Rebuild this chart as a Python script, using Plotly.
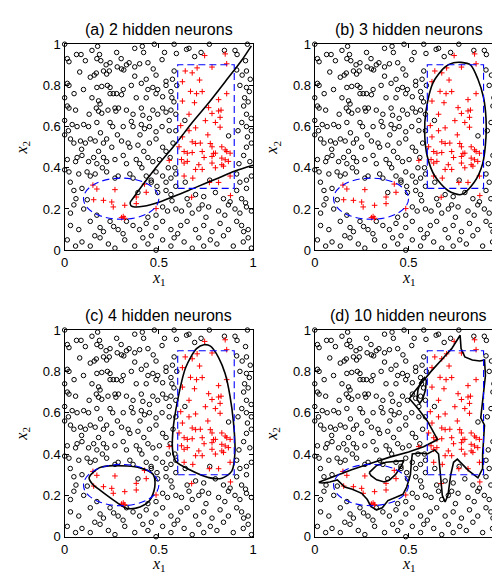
import plotly.graph_objects as go

# ---------------- data ----------------
circle_pts = [
    (0.0,1.0),(0.063,0.95),(0.087,0.95),(0.145,0.97),(0.175,0.99),(0.185,0.95),(0.276,0.96),(0.372,0.98),
    (0.412,0.99),(0.419,0.96),(0.476,1.0),(0.581,1.0),(0.593,0.955),(0.647,0.975),(0.66,0.98),(0.724,0.96),
    (0.768,1.0),(0.848,0.97),(0.904,0.97),(0.915,0.95),(0.97,1.0),
    (0.014,0.93),(0.023,0.915),(0.171,0.93),(0.192,0.92),(0.22,0.9),(0.241,0.91),(0.279,0.89),(0.328,0.9),
    (0.342,0.91),(0.372,0.89),(0.398,0.905),(0.442,0.91),(0.517,0.925),(0.581,0.87),(0.913,0.875),(0.965,0.87),
    (0.08,0.865),(0.136,0.84),(0.157,0.85),(0.168,0.86),(0.206,0.87),(0.223,0.855),(0.237,0.87),(0.302,0.88),
    (0.314,0.875),(0.372,0.845),(0.433,0.83),(0.485,0.85),(0.538,0.82),(0.572,0.83),(0.942,0.85),(0.985,0.83),
    (0.014,0.81),(0.023,0.80),(0.171,0.79),(0.197,0.795),(0.227,0.8),(0.241,0.79),(0.311,0.78),(0.354,0.8),
    (0.407,0.81),(0.442,0.78),(0.468,0.79),(0.494,0.78),(0.538,0.8),(0.564,0.77),(0.965,0.79),
    (0.145,0.74),(0.18,0.725),(0.188,0.71),(0.241,0.76),(0.258,0.76),(0.276,0.76),(0.302,0.755),(0.433,0.74),
    (0.485,0.76),(0.52,0.745),(0.569,0.74),(0.955,0.74),(0.974,0.72),
    (0.014,0.70),(0.023,0.69),(0.058,0.68),(0.168,0.69),(0.18,0.675),(0.197,0.665),(0.267,0.69),(0.272,0.675),
    (0.286,0.69),(0.328,0.68),(0.363,0.66),(0.407,0.69),(0.415,0.655),(0.468,0.68),(0.494,0.66),(0.52,0.69),
    (0.538,0.67),(0.564,0.68),(0.59,0.66),(0.965,0.66),
    (0.04,0.61),(0.066,0.6),(0.101,0.61),(0.127,0.6),(0.171,0.62),(0.241,0.62),(0.255,0.6),(0.311,0.6),
    (0.354,0.625),(0.363,0.6),(0.407,0.61),(0.424,0.59),(0.45,0.6),(0.485,0.575),(0.517,0.6),(0.555,0.58),
    (0.965,0.6),(0.991,0.58),
    (0.031,0.54),(0.049,0.52),(0.084,0.53),(0.11,0.52),(0.136,0.54),(0.162,0.53),(0.206,0.52),(0.223,0.54),
    (0.25,0.5),(0.302,0.53),(0.337,0.52),(0.346,0.5),(0.389,0.51),(0.45,0.52),(0.485,0.54),(0.52,0.5),
    (0.538,0.48),(0.87,0.555),(0.965,0.5),(0.991,0.52),
    (0.014,0.44),(0.058,0.43),(0.066,0.45),(0.092,0.46),(0.127,0.43),(0.154,0.45),(0.171,0.42),(0.206,0.45),
    (0.223,0.43),(0.267,0.44),(0.311,0.46),(0.328,0.42),(0.38,0.44),(0.398,0.42),(0.442,0.45),(0.468,0.43),
    (0.503,0.44),(0.983,0.43),(0.95,0.46),
    (0.023,0.38),(0.075,0.37),(0.119,0.38),(0.136,0.36),(0.162,0.37),(0.223,0.38),(0.267,0.35),(0.284,0.36),
    (0.346,0.37),(0.363,0.35),(0.433,0.36),(0.459,0.34),(0.485,0.38),(0.52,0.36),(0.538,0.33),(0.564,0.35),
    (0.59,0.37),(0.913,0.37),(0.965,0.34),(0.991,0.36),
    (0.049,0.29),(0.092,0.3),(0.12,0.245),(0.389,0.28),(0.46,0.33),(0.49,0.31),(0.494,0.28),(0.538,0.29),
    (0.564,0.27),(0.59,0.31),(0.65,0.25),(0.695,0.27),(0.738,0.26),(0.8,0.28),(0.843,0.25),(0.878,0.235),
    (0.913,0.29),(0.939,0.25),(0.965,0.3),
    (0.049,0.22),(0.101,0.2),(0.031,0.18),(0.52,0.21),(0.546,0.19),(0.59,0.2),(0.66,0.22),(0.677,0.18),
    (0.712,0.2),(0.764,0.21),(0.817,0.19),(0.869,0.22),(0.904,0.2),(0.93,0.18),(0.965,0.21),(0.991,0.19),
    (0.485,0.17),(0.442,0.16),(0.171,0.17),(0.241,0.14),
    (0.031,0.12),(0.075,0.1),(0.136,0.14),(0.188,0.11),(0.206,0.09),(0.26,0.115),(0.284,0.1),(0.328,0.14),
    (0.363,0.12),(0.398,0.1),(0.433,0.13),(0.485,0.11),(0.52,0.14),(0.564,0.1),(0.616,0.12),(0.65,0.14),
    (0.695,0.1),(0.738,0.12),(0.782,0.09),(0.825,0.13),(0.869,0.1),(0.913,0.14),(0.939,0.12),(0.974,0.1),
    (0.014,0.05),(0.058,0.02),(0.092,0.04),(0.136,0.02),(0.188,0.06),(0.232,0.03),(0.267,0.01),(0.319,0.05),
    (0.372,0.02),(0.415,0.06),(0.442,0.03),(0.485,0.0),(0.52,0.05),(0.564,0.02),(0.581,0.06),(0.634,0.04),
    (0.677,0.01),(0.712,0.06),(0.738,0.02),(0.773,0.05),(0.808,0.03),(0.843,0.07),(0.895,0.02),(0.948,0.04),
    (0.974,0.06),(0.991,0.01),
    (0.93,0.8),(0.95,0.7),(0.97,0.55),(0.925,0.42),(0.94,0.62),(0.98,0.77),(0.93,0.33),(0.99,0.64),
    (0.638,0.63),(0.64,0.33),(0.77,0.34),
    (0.575,0.52),(0.56,0.45),(0.585,0.4),(0.59,0.58),(0.555,0.63),(0.595,0.8),(0.58,0.72),
    (0.0,0.74),(0.0,0.63),(0.0,0.56),(0.0,0.39),
    (0.11,0.92),(0.3,0.93),(0.47,0.88),(0.53,0.96),(0.05,0.76),(0.1,0.78),(0.38,0.74),(0.13,0.66),
    (0.23,0.68),(0.45,0.64),(0.02,0.58),(0.19,0.57),(0.28,0.56),(0.4,0.56),(0.09,0.49),(0.18,0.48),
    (0.42,0.48),(0.03,0.33),(0.2,0.4),(0.41,0.4),(0.55,0.4),(0.06,0.25),(0.57,0.24),(0.62,0.19),
    (0.75,0.16),(0.85,0.17),(0.95,0.09),(0.6,0.08),(0.46,0.07),(0.16,0.07),(0.31,0.08),(0.73,0.22),
    (0.96,0.23),(0.92,0.58),(0.96,0.92),(0.69,0.94),
]

plus_pts = [
    (0.743,0.945),(0.852,0.953),(0.677,0.861),(0.703,0.885),(0.716,0.826),(0.782,0.889),(0.86,0.905),
    (0.668,0.771),(0.817,0.731),(0.625,0.724),(0.689,0.716),(0.764,0.692),(0.782,0.664),(0.817,0.676),
    (0.825,0.645),(0.616,0.605),(0.695,0.594),(0.747,0.629),(0.625,0.55),(0.677,0.526),(0.695,0.518),
    (0.773,0.518),(0.782,0.502),(0.834,0.502),(0.852,0.487),(0.607,0.502),(0.634,0.479),(0.651,0.471),
    (0.677,0.474),(0.73,0.479),(0.86,0.479),(0.878,0.471),(0.634,0.423),(0.651,0.431),(0.782,0.455),
    (0.8,0.471),(0.834,0.447),(0.852,0.439),(0.869,0.431),(0.782,0.423),(0.834,0.415),(0.843,0.408),
    (0.8,0.4),(0.768,0.329),(0.817,0.329),(0.712,0.415),(0.695,0.392),(0.73,0.392),(0.73,0.77),
    (0.825,0.597),(0.66,0.66),(0.634,0.36),(0.878,0.36),(0.625,0.818),
    (0.64,0.87),(0.70,0.76),(0.76,0.56),(0.80,0.62),(0.83,0.68),(0.66,0.58),(0.72,0.52),(0.62,0.44),
    (0.68,0.35),(0.86,0.76),(0.74,0.45),(0.79,0.47),
    (0.674,0.257),(0.555,0.436),(0.88,0.265),
    (0.171,0.297),(0.15,0.316),(0.267,0.294),(0.424,0.321),(0.433,0.281),(0.38,0.258),(0.206,0.242),
    (0.25,0.234),(0.154,0.245),(0.258,0.21),(0.319,0.218),(0.485,0.202),(0.311,0.163),(0.319,0.155),
    (0.302,0.158),(0.38,0.226),
]

# true class regions (blue dashed)
rect_x0, rect_x1, rect_y0, rect_y1 = 0.6, 0.9, 0.3, 0.9
ell_x0, ell_x1, ell_y0, ell_y1 = 0.1, 0.5, 0.15, 0.35

# decision boundaries
bnd_a = [[(0.991,0.992),(0.939,0.921),(0.852,0.818),(0.765,0.716),(0.678,0.621),(0.591,0.518),
          (0.504,0.423),(0.417,0.32),(0.365,0.255),(0.348,0.232),(0.352,0.216),(0.372,0.21),(0.417,0.213),
          (0.504,0.234),(0.591,0.265),(0.696,0.305),(0.8,0.344),(0.904,0.384),(1.0,0.412)]]
bnd_b = [[(0.74,0.91),(0.78,0.912),(0.83,0.9),(0.87,0.83),(0.9,0.74),(0.913,0.64),(0.913,0.55),(0.895,0.42),
          (0.85,0.33),(0.78,0.27),(0.71,0.29),(0.64,0.36),(0.6,0.455),(0.586,0.565),(0.593,0.676),
          (0.633,0.818),(0.695,0.89),(0.74,0.91)]]
bnd_c = [[(0.739,0.929),(0.774,0.922),(0.817,0.867),(0.852,0.788),(0.878,0.678),(0.896,0.553),(0.904,0.411),
          (0.887,0.317),(0.835,0.283),(0.765,0.286),(0.661,0.325),(0.591,0.364),(0.574,0.411),(0.574,0.505),
          (0.6,0.662),(0.643,0.82),(0.7,0.91),(0.739,0.929)],
         [(0.13,0.286),(0.183,0.333),(0.261,0.344),(0.4,0.333),(0.47,0.301),(0.478,0.239),(0.452,0.176),
          (0.4,0.144),(0.33,0.137),(0.261,0.176),(0.191,0.223),(0.148,0.254),(0.13,0.286)]]
bnd_d = [[(0.021,0.263),(0.10,0.290),(0.20,0.325),(0.30,0.355),(0.40,0.385),(0.50,0.410),(0.58,0.435),
          (0.655,0.470),(0.60,0.56),(0.55,0.62),(0.505,0.668),(0.53,0.70),(0.57,0.745),(0.62,0.80),
          (0.68,0.86),(0.73,0.91),(0.775,0.975),(0.78,0.91),(0.80,0.87),(0.84,0.855),(0.88,0.85),
          (0.905,0.855),(0.91,0.78),(0.90,0.70),(0.89,0.62),(0.885,0.575),(0.905,0.54),(0.90,0.49),
          (0.895,0.40),(0.895,0.33),(0.87,0.285),(0.82,0.32),(0.76,0.375),(0.74,0.36),(0.725,0.30),
          (0.71,0.20),(0.695,0.168),(0.68,0.20),(0.672,0.30),(0.66,0.40),(0.64,0.42),(0.60,0.40),
          (0.56,0.405),(0.52,0.40),(0.515,0.36),(0.51,0.30),(0.49,0.24),(0.47,0.205),(0.43,0.19),
          (0.39,0.175),(0.36,0.14),(0.33,0.13),(0.30,0.145),(0.28,0.18),(0.25,0.21),(0.20,0.23),
          (0.16,0.24),(0.14,0.26),(0.12,0.275),(0.08,0.265),(0.04,0.26),(0.021,0.263)],
         [(0.29,0.31),(0.33,0.345),(0.38,0.36),(0.44,0.365),(0.475,0.368),(0.46,0.34),(0.43,0.30),
          (0.40,0.275),(0.37,0.265),(0.33,0.275),(0.30,0.295),(0.29,0.31)],
         [(0.545,0.665),(0.55,0.71),(0.565,0.75),(0.585,0.77),(0.595,0.755),(0.59,0.71),(0.575,0.665),
          (0.56,0.645),(0.545,0.665)]]

titles = ["(a) 2 hidden neurons", "(b) 3 hidden neurons", "(c) 4 hidden neurons", "(d) 10 hidden neurons"]
boundaries = [bnd_a, bnd_b, bnd_c, bnd_d]
x_ticks = [0, 0.5, 1]
x_ticktext = ["0", "0.5", "1"]
y_ticks = [0, 0.2, 0.4, 0.6, 0.8, 1]
y_ticktext = ["0", "0.2", "0.4", "0.6", "0.8", "1"]

# ---------------- layout geometry ----------------
W, H = 500, 574
col_px = [(53.5, 245.0), (307.7, 498.3)]
row_px = [(30.0, 241.5), (323.5, 535.7)]

cx = [c[0] for c in circle_pts]; cy = [c[1] for c in circle_pts]
px = [p[0] for p in plus_pts]; py = [p[1] for p in plus_pts]

fig = go.Figure()
layout = dict(width=W, height=H, margin=dict(l=0, r=0, t=0, b=0),
              plot_bgcolor="white", paper_bgcolor="white", showlegend=False,
              font=dict(family="Liberation Sans, Arial", size=13, color="black"))
annotations = []
shapes = []
tick_font = dict(family="Liberation Sans, Arial", size=13, color="black")
lab_font = dict(family="Liberation Serif, Times New Roman", size=16, color="black")

for i in range(4):
    r, c = divmod(i, 2)
    n = "" if i == 0 else str(i + 1)
    xa, ya = "x" + n, "y" + n
    xd = [col_px[c][0] / W, col_px[c][1] / W]
    yd = [(H - row_px[r][1]) / H, (H - row_px[r][0]) / H]
    common = dict(range=[0, 1], showgrid=False, zeroline=False, showline=True, linecolor="black",
                  linewidth=1.4, mirror="allticks", ticks="inside", ticklen=4, tickwidth=1,
                  tickcolor="black", tickfont=tick_font, fixedrange=True)
    layout["xaxis" + n] = dict(domain=xd, anchor=ya, tickvals=x_ticks, ticktext=x_ticktext, **common)
    layout["yaxis" + n] = dict(domain=yd, anchor=xa, tickvals=y_ticks, ticktext=y_ticktext, **common)

    fig.add_trace(go.Scatter(x=cx, y=cy, mode="markers", xaxis=xa, yaxis=ya, cliponaxis=False,
                             marker=dict(symbol="circle-open", size=4.5, color="black",
                                         line=dict(width=1, color="black"))))
    fig.add_trace(go.Scatter(x=px, y=py, mode="markers", xaxis=xa, yaxis=ya, cliponaxis=False,
                             marker=dict(symbol="cross-thin", size=4, color="red",
                                         line=dict(width=1, color="red"))))
    shape_kind = "linear" if i == 3 else "spline"
    for curve in boundaries[i]:
        fig.add_trace(go.Scatter(x=[p[0] for p in curve], y=[p[1] for p in curve], mode="lines",
                                 xaxis=xa, yaxis=ya,
                                 line=dict(color="black", width=1.6, shape=shape_kind, smoothing=0.8)))

    dash_line = dict(color="blue", width=1.1, dash="7px,4px")
    shapes.append(dict(type="rect", xref=xa, yref=ya, x0=rect_x0, x1=rect_x1, y0=rect_y0, y1=rect_y1,
                       line=dash_line, layer="above"))
    shapes.append(dict(type="circle", xref=xa, yref=ya, x0=ell_x0, x1=ell_x1, y0=ell_y0, y1=ell_y1,
                       line=dash_line, layer="above"))

    xmid = (col_px[c][0] + col_px[c][1]) / 2 / W
    annotations.append(dict(text=titles[i], x=xmid, y=(H - (row_px[r][0] - 15)) / H, xref="paper",
                            yref="paper", showarrow=False, xanchor="center", yanchor="middle",
                            font=dict(family="Liberation Sans, Arial", size=16, color="black")))
    annotations.append(dict(text="<i>x</i><sub>1</sub>", x=xmid, y=(H - (row_px[r][1] + 29)) / H,
                            xref="paper", yref="paper", showarrow=False, xanchor="center",
                            yanchor="middle", font=lab_font))
    annotations.append(dict(text="<i>x</i><sub>2</sub>", x=(col_px[c][0] - 43) / W,
                            y=(H - (row_px[r][0] + row_px[r][1]) / 2) / H, textangle=-90,
                            xref="paper", yref="paper", showarrow=False, xanchor="center",
                            yanchor="middle", font=lab_font))

layout["annotations"] = annotations
layout["shapes"] = shapes
fig.update_layout(**layout)
fig.write_html("out.html")
